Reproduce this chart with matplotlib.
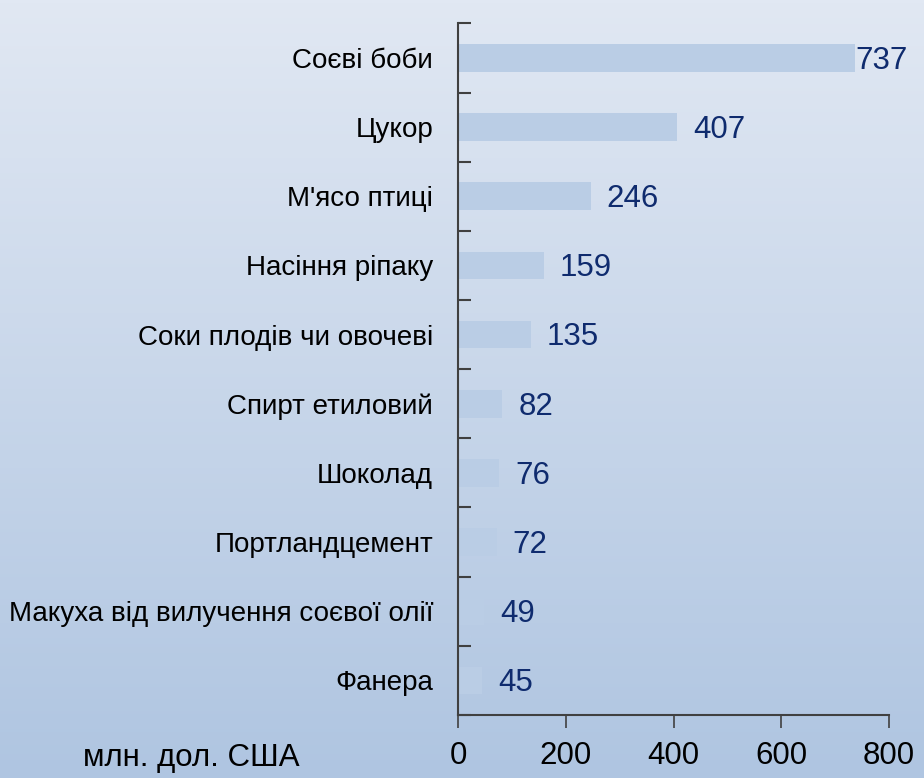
import numpy as np
import matplotlib
matplotlib.use("Agg")
import matplotlib.pyplot as plt
from matplotlib.colors import LinearSegmentedColormap

categories = ["Соєві боби", "Цукор", "М'ясо птиці", "Насіння ріпаку",
              "Соки плодів чи овочеві", "Спирт етиловий", "Шоколад",
              "Портландцемент", "Макуха від вилучення соєвої олії", "Фанера"]
values = [737, 407, 246, 159, 135, 82, 76, 72, 49, 45]
xticks = [0, 200, 400, 600, 800]
unit_label = "млн. дол. США"

plt.rcParams['font.family'] = ['Liberation Sans', 'DejaVu Sans']

fig = plt.figure(figsize=(9.24, 7.78), dpi=100)

# background gradient
bg = fig.add_axes([0, 0, 1, 1], zorder=-10)
cmap = LinearSegmentedColormap.from_list("bg", [(225/255, 232/255, 243/255), (175/255, 197/255, 225/255)])
grad = np.linspace(0, 1, 256).reshape(-1, 1)
bg.imshow(grad, aspect='auto', cmap=cmap, extent=[0, 1, 0, 1], origin='upper')
bg.axis('off')

ax = fig.add_axes([0.4957, 0.081, 0.4665, 0.889])
ax.patch.set_alpha(0)
n = len(categories)
y = np.arange(n)
ax.barh(y, values, height=0.4, color='#bacde5', edgecolor='none')
ax.set_ylim(n - 0.5, -0.5)
ax.set_xlim(0, 800)

ax.set_yticks(y)
ax.set_yticklabels(categories, fontsize=20, color='black')
ax.tick_params(axis='y', which='major', length=0, pad=18)
ax.set_yticks(np.arange(-0.5, n, 1), minor=True)
ax.tick_params(axis='y', which='minor', direction='in', length=9, width=1.5, color='#404040')

ax.set_xticks(xticks)
ax.set_xticklabels([str(t) for t in xticks], fontsize=22.5)
ax.tick_params(axis='x', direction='out', length=9, width=1.2, color='#404040', pad=10)

for s in ['top', 'right']:
    ax.spines[s].set_visible(False)
for s in ['left', 'bottom']:
    ax.spines[s].set_color('#404040')
    ax.spines[s].set_linewidth(1.5)

for i, v in enumerate(values):
    off = 0 if i == 0 else 16
    ax.annotate(str(v), xy=(v, i), xytext=(off * 0.72, -2), textcoords='offset points',
                ha='left', va='center', fontsize=22.5, color='#0f2b6e')

fig.text(191/924, 1 - 758/778, unit_label, ha='center', va='center', fontsize=22.5)

fig.savefig("out.png", dpi=100)
